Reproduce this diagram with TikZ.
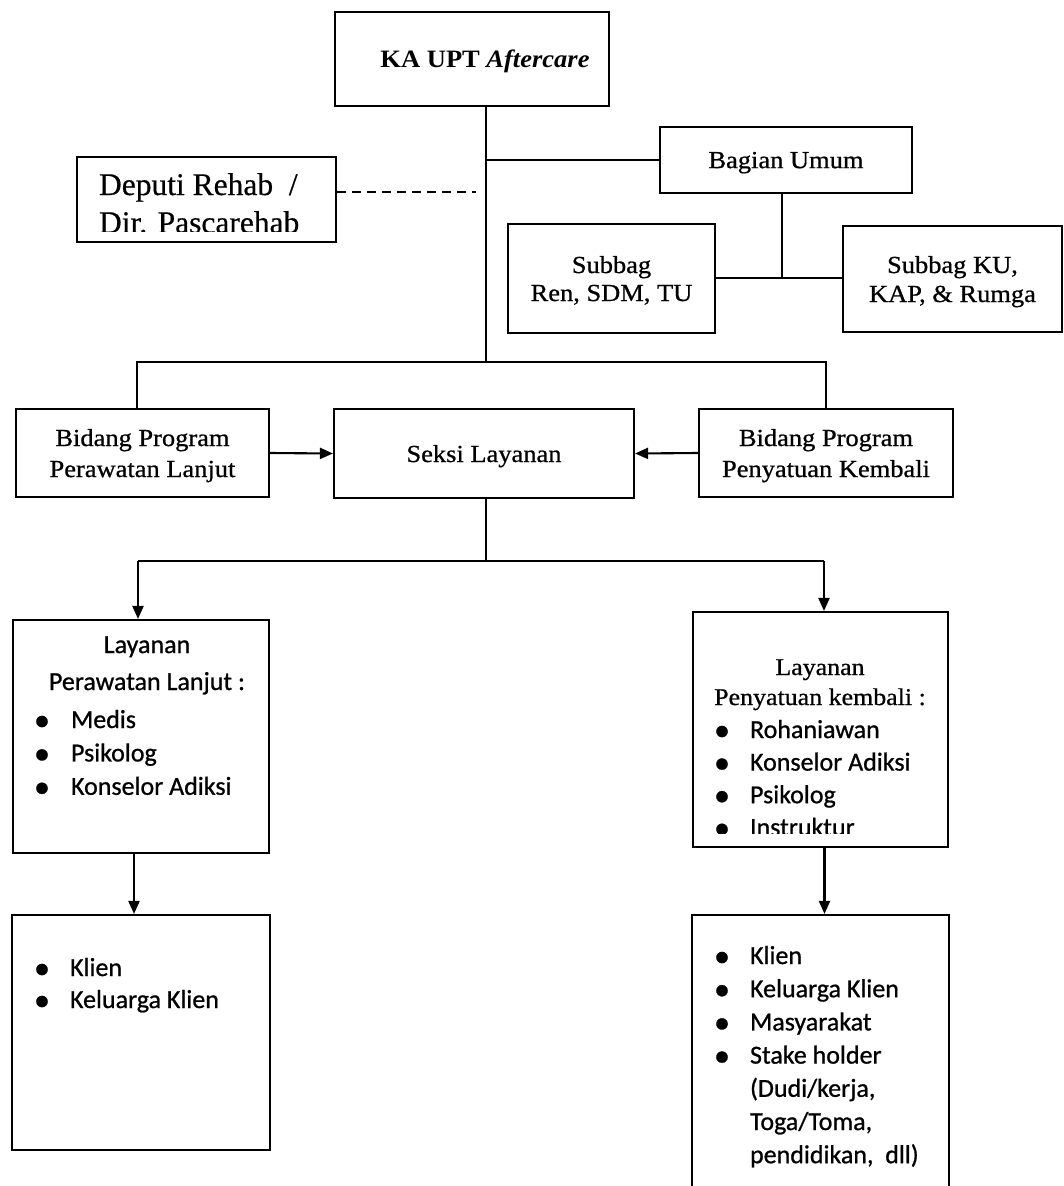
\documentclass[tikz,border=0pt]{standalone}
\usepackage{fontspec}
\setmainfont{Liberation Serif}[FakeBold=0.5]
\newfontfamily\boxserif{Liberation Serif}[FakeStretch=1.08, FakeBold=0.8]
\newfontfamily\headserif{Liberation Serif}[FakeStretch=1.06]
\newfontfamily\listsans{Carlito}[FakeBold=0.8]
\usetikzlibrary{arrows.meta}
\newcommand\bul{\raisebox{-2.5pt}{\fontsize{32}{32}\selectfont •}}

\begin{document}
\begin{tikzpicture}[x=1pt,y=-1pt,
  line width=2.1pt,
  frame/.style={draw, line width=2.1pt, inner sep=0pt, align=center, text depth=0pt},
  srf/.style={font=\boxserif\fontsize{24.5}{#1}\selectfont},
  srf/.default=31,
  lst/.style={inner sep=0pt, anchor=base west, font=\listsans\fontsize{26}{#1}\selectfont},
  lst/.default=33.4,
  arr/.style={-{Triangle[length=13pt,width=11pt]}}]
\useasboundingbox (0,0) rectangle (1064,1186);

% ---- top level ----
\node[frame, minimum width=274pt, minimum height=94pt,
      font=\headserif\bfseries\fontsize{25}{28}\selectfont] (ka) at (472,59)
      {\hspace*{26pt}KA UPT \textit{Aftercare}};

\node[frame, minimum width=259pt, minimum height=85pt] (dep) at (206.5,199.5) {};
\begin{scope}
  \clip (dep.north west) rectangle (dep.east |- 0,231.5);
  \node[inner sep=0pt, anchor=base west, font=\fontsize{31.5}{38}\selectfont] (deptxt) at (98,195)
    {\begin{tabular}[t]{@{}l@{}}Deputi Rehab\ \ /\\Dir. Pascarehab\end{tabular}};
\end{scope}

\node[frame, srf, minimum width=252pt, minimum height=66pt] (bag) at (786,160) {Bagian Umum};
\node[frame, srf=28, minimum width=207pt, minimum height=109pt] (ren) at (611.5,278.5) {Subbag\\Ren, SDM, TU};
\node[frame, srf=29, minimum width=219pt, minimum height=106pt] (ku) at (952.5,279) {Subbag KU,\\KAP, \& Rumga};

% ---- second level ----
\node[frame, srf, minimum width=253pt, minimum height=88pt] (bid1) at (142.5,453) {Bidang Program\\Perawatan Lanjut};
\node[frame, srf, minimum width=300pt, minimum height=89pt] (seksi) at (484,453.5) {Seksi Layanan};
\node[frame, srf, minimum width=254pt, minimum height=88pt] (bid2) at (826,453) {Bidang Program\\Penyatuan Kembali};

% ---- service boxes ----
\node[frame, minimum width=256pt, minimum height=233pt] (lay1) at (141,736.5) {};
\node[frame, minimum width=255pt, minimum height=235pt] (lay2) at (820.5,729.5) {};
\node[frame, minimum width=258pt, minimum height=235pt] (kl1) at (141,1032.5) {};
\node[frame, minimum width=257pt, minimum height=285pt] (kl2) at (820.5,1057.5) {};

% left service text
\node[inner sep=0pt, anchor=base, font=\listsans\fontsize{26}{37}\selectfont] (lay1head) at (147,653)
  {\begin{tabular}[t]{@{}c@{}}Layanan\\Perawatan Lanjut :\end{tabular}};
\node[lst] (lay1list) at (33,728)
  {\begin{tabular}[t]{@{}p{37pt}@{}l@{}}\bul&Medis\\\bul&Psikolog\\\bul&Konselor Adiksi\end{tabular}};

% right service text (last item cut by the frame)
\node[inner sep=0pt, anchor=base, font=\boxserif\fontsize{24}{30}\selectfont] (lay2head) at (820,675)
  {\begin{tabular}[t]{@{}c@{}}Layanan\\Penyatuan kembali :\end{tabular}};
\begin{scope}
  \clip (lay2.north west) rectangle (lay2.east |- 0,833);
  \node[lst=32.6] (lay2list) at (713,738)
    {\begin{tabular}[t]{@{}p{36pt}@{}l@{}}\bul&Rohaniawan\\\bul&Konselor Adiksi\\\bul&Psikolog\\\bul&Instruktur\end{tabular}};
\end{scope}

% target groups
\node[lst=32] (kl1list) at (33,976)
  {\begin{tabular}[t]{@{}p{36pt}@{}l@{}}\bul&Klien\\\bul&Keluarga Klien\end{tabular}};
\node[lst=33.2] (kl2list) at (713,964)
  {\begin{tabular}[t]{@{}p{36pt}@{}l@{}}\bul&Klien\\\bul&Keluarga Klien\\\bul&Masyarakat\\\bul&Stake holder\\
    &(Dudi/kerja,\\&Toga/Toma,\\&pendidikan,\ \ dll)\end{tabular}};

% ---- connectors ----
\coordinate (trunk) at (486,362);
\coordinate (dashend) at (476,192);
\coordinate (bj) at (782,278);
\coordinate (rowL) at (137,362);
\coordinate (rowR) at (826,362);
\coordinate (splitL) at (138,561);
\coordinate (splitR) at (824,561);

\draw (ka.south -| trunk) -- (trunk);
\draw (trunk |- bag.west) -- (bag.west);
\draw[line width=1.8pt, dash pattern=on 9pt off 6pt] (dashend -| dep.east) -- (dashend);
\draw (bag.south -| bj) -- (bj);
\draw (ren.east |- bj) -- (ku.west |- bj);
\draw (rowL |- bid1.north) -- (rowL) -- (rowR) -- (rowR |- bid2.north);
\draw[arr] (bid1.east) -- (seksi.west);
\draw[arr] (bid2.west) -- (seksi.east);
\draw (seksi.south -| trunk) -- (trunk |- splitL);
\draw (splitL) -- (splitR);
\draw[arr] (splitL) -- (splitL |- lay1.north);
\draw[arr] (splitR) -- (splitR |- lay2.north);
\draw[arr] ([xshift=-7pt]lay1.south) -- ([xshift=-7pt]lay1.south |- kl1.north);
\draw[arr] ([xshift=4pt]lay2.south) -- ([xshift=4pt]lay2.south |- kl2.north);
\end{tikzpicture}
\end{document}
